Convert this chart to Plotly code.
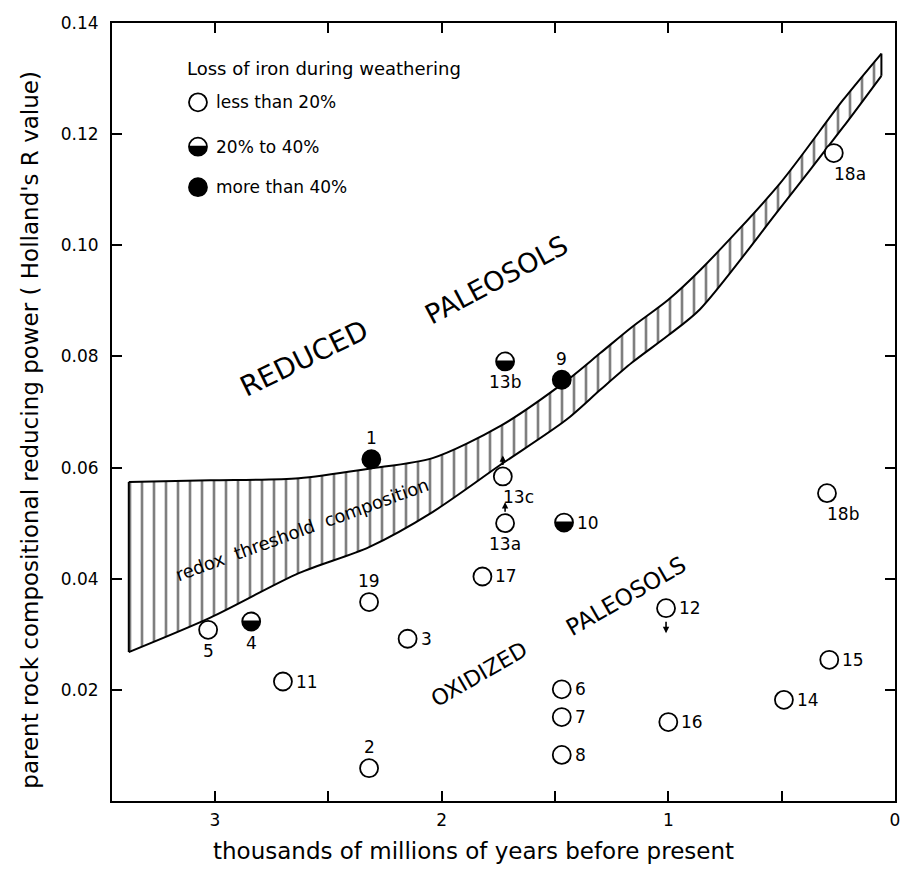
import math
import plotly.graph_objects as go

# ---------------- data ----------------
ids = ["1", "2", "3", "4", "5", "6", "7", "8", "9", "10", "11", "12",
       "13a", "13b", "13c", "14", "15", "16", "17", "18a", "18b", "19"]
age = [2.31, 2.32, 2.15, 2.84, 3.03, 1.47, 1.47, 1.47, 1.47, 1.46, 2.70, 1.01,
       1.72, 1.72, 1.73, 0.49, 0.29, 1.00, 1.82, 0.27, 0.30, 2.32]
r_value = [0.0615, 0.0059, 0.0292, 0.0323, 0.0308, 0.0201, 0.0151, 0.0083, 0.0758, 0.0501, 0.0215, 0.0347,
           0.0500, 0.0791, 0.0584, 0.0182, 0.0254, 0.0142, 0.0404, 0.1166, 0.0554, 0.0358]
iron_loss = ["high", "low", "low", "mid", "low", "low", "low", "low", "high", "mid", "low", "low",
             "low", "mid", "low", "low", "low", "low", "low", "low", "low", "low"]
limits = {"12": "down", "13a": "up", "13c": "up"}

band_age = [3.38, 3.02, 2.63, 2.32, 2.04, 1.74, 1.45, 1.30, 1.16, 1.00, 0.86, 0.51, 0.23, 0.06]
band_upper = [0.0574, 0.0577, 0.0581, 0.0598, 0.0617, 0.0675, 0.0756, 0.0806, 0.0853, 0.0902, 0.0955, 0.1110, 0.1261, 0.1345]
band_lower = [0.0268, 0.0330, 0.0410, 0.0457, 0.0520, 0.0605, 0.0686, 0.0740, 0.0789, 0.0838, 0.0885, 0.1065, 0.1212, 0.1305]

x_ticks = [3, 2.5, 2, 1.5, 1, 0.5, 0]
x_ticktext = ["3", "", "2", "", "1", "", "0"]
y_ticks = [0.02, 0.04, 0.06, 0.08, 0.10, 0.12, 0.14]
y_ticktext = ["0.02", "0.04", "0.06", "0.08", "0.10", "0.12", "0.14"]

legend_title = "Loss of iron during weathering"
legend_labels = {"low": "less than 20%", "mid": "20% to 40%", "high": "more than 40%"}

# label placement style (offset direction of each point label)
label_side = {"1": "top", "2": "top", "9": "top", "19": "top",
              "4": "bottom", "5": "bottom", "13a": "bottom", "13b": "bottom",
              "13c": "bottomright", "18a": "bottomright", "18b": "bottomright"}

FONT = "DejaVu Sans"
R = 9  # marker radius in px

fig = go.Figure()

# hatched band (smooth edges)
fig.add_trace(go.Scatter(
    x=band_age, y=band_lower, mode="lines", line=dict(color="black", width=2, shape="spline", smoothing=0.8),
    hoverinfo="skip", showlegend=False))
fig.add_trace(go.Scatter(
    x=band_age, y=band_upper, mode="lines", line=dict(color="black", width=2, shape="spline", smoothing=0.8),
    fill="tonexty", fillcolor="white",
    fillpattern=dict(shape="|", size=12, solidity=0.22, fgcolor="black", bgcolor="white"),
    hoverinfo="skip", showlegend=False))
fig.add_trace(go.Scatter(
    x=[band_age[0], band_age[0], None, band_age[-1], band_age[-1]],
    y=[band_lower[0], band_upper[0], None, band_lower[-1], band_upper[-1]],
    mode="lines", line=dict(color="black", width=2), hoverinfo="skip", showlegend=False))

# points: open circles for low & mid, filled for high
for cat in ["low", "mid", "high"]:
    xs = [a for a, c in zip(age, iron_loss) if c == cat]
    ys = [v for v, c in zip(r_value, iron_loss) if c == cat]
    fig.add_trace(go.Scatter(
        x=xs, y=ys, mode="markers",
        marker=dict(symbol="circle", size=2 * R,
                    color="black" if cat == "high" else "white",
                    line=dict(color="black", width=1.8)),
        name=legend_labels[cat], showlegend=False))


def half_path(r, n=30, lift=1.0):
    pts = []
    a0 = math.asin(lift / r)
    for i in range(n + 1):
        a = math.pi - a0 + (math.pi + 2 * a0) * i / n
        pts.append((r * math.cos(a), r * math.sin(a)))
    s = "M {:.2f},{:.2f} ".format(*pts[0])
    s += " ".join("L {:.2f},{:.2f}".format(px, py) for px, py in pts[1:])
    return s + " Z"


shapes = []
for a, v, c in zip(age, r_value, iron_loss):
    if c == "mid":
        shapes.append(dict(type="path", xref="x", yref="y", xsizemode="pixel", ysizemode="pixel",
                           xanchor=a, yanchor=v, path=half_path(R), fillcolor="black",
                           line=dict(width=0), layer="above"))

annotations = []
for name, a, v in zip(ids, age, r_value):
    side = label_side.get(name, "right")
    ann = dict(x=a, y=v, xref="x", yref="y", text=name, showarrow=False,
               font=dict(family=FONT, size=17, color="black"))
    if side == "right":
        ann.update(xanchor="left", yanchor="middle", xshift=R + 2)
    elif side == "top":
        ann.update(xanchor="center", yanchor="bottom", yshift=R)
    elif side == "bottom":
        ann.update(xanchor="center", yanchor="top", yshift=-R)
    else:
        ann.update(xanchor="left", yanchor="top", xshift=-2, yshift=-R)
    annotations.append(ann)

for name, a, v in zip(ids, age, r_value):
    if name in limits:
        if limits[name] == "down":
            annotations.append(dict(x=a, y=v, xref="x", yref="y", text="", showarrow=True,
                                    arrowhead=2, arrowsize=0.8, arrowwidth=1.6, arrowcolor="black",
                                    ax=0, ay=-13, yshift=-R - 16))
        else:
            annotations.append(dict(x=a, y=v, xref="x", yref="y", text="", showarrow=True,
                                    arrowhead=2, arrowsize=0.8, arrowwidth=1.6, arrowcolor="black",
                                    ax=0, ay=11, yshift=R + 12))

# region texts
annotations += [
    dict(x=2.607, y=0.0797, xref="x", yref="y", text="REDUCED", showarrow=False, textangle=-26,
         font=dict(family=FONT, size=28, color="black")),
    dict(x=1.756, y=0.0938, xref="x", yref="y", text="PALEOSOLS", showarrow=False, textangle=-28,
         font=dict(family=FONT, size=27, color="black")),
    dict(x=1.835, y=0.0227, xref="x", yref="y", text="OXIDIZED", showarrow=False, textangle=-30,
         font=dict(family=FONT, size=22, color="black")),
    dict(x=1.187, y=0.0369, xref="x", yref="y", text="PALEOSOLS", showarrow=False, textangle=-30,
         font=dict(family=FONT, size=23, color="black")),
    dict(x=2.616, y=0.0489, xref="x", yref="y", text="redox  threshold  composition", showarrow=False,
         textangle=-20, font=dict(family=FONT, size=18, color="black")),
]

# axis titles
annotations += [
    dict(x=0.462, y=-0.0645, xref="paper", yref="paper", text="thousands of millions of years before present",
         showarrow=False, xanchor="center", yanchor="middle", font=dict(family=FONT, size=23, color="black")),
    dict(x=-0.105, y=0.477, xref="paper", yref="paper",
         text="parent rock compositional reducing power ( Holland's R value)",
         showarrow=False, textangle=-90, xanchor="center", yanchor="middle",
         font=dict(family=FONT, size=23, color="black")),
]

# manual legend
lx = 0.1098
ly = {"low": 0.898, "mid": 0.841, "high": 0.789}
annotations.append(dict(x=0.093, y=0.942, xref="paper", yref="paper", text=legend_title, showarrow=False,
                        xanchor="left", yanchor="middle", font=dict(family=FONT, size=18, color="black")))
for cat in ["low", "mid", "high"]:
    shapes.append(dict(type="circle", xref="paper", yref="paper", xsizemode="pixel", ysizemode="pixel",
                       xanchor=lx, yanchor=ly[cat], x0=-R, x1=R, y0=-R, y1=R,
                       fillcolor="black" if cat == "high" else "white",
                       line=dict(color="black", width=1.8)))
    if cat == "mid":
        shapes.append(dict(type="path", xref="paper", yref="paper", xsizemode="pixel", ysizemode="pixel",
                           xanchor=lx, yanchor=ly[cat], path=half_path(R), fillcolor="black",
                           line=dict(width=0)))
    annotations.append(dict(x=lx, y=ly[cat], xref="paper", yref="paper", text=legend_labels[cat],
                            showarrow=False, xanchor="left", yanchor="middle", xshift=R + 7,
                            font=dict(family=FONT, size=17, color="black")))

axis_common = dict(showline=True, linecolor="black", linewidth=2, mirror="ticks",
                   ticks="inside", ticklen=10, tickwidth=1.6, tickcolor="black",
                   showgrid=False, zeroline=False, automargin=False,
                   tickfont=dict(family=FONT, size=17, color="black"))

# page body adds an 8px margin, so the figure is sized to fit the 909x872 window
fig.update_layout(
    width=901, height=864,
    margin=dict(l=104, r=14, t=15, b=71),
    paper_bgcolor="white", plot_bgcolor="white",
    showlegend=False,
    xaxis=dict(range=[3.454, 0], tickvals=x_ticks, ticktext=x_ticktext, ticklabelstandoff=3, **axis_common),
    yaxis=dict(range=[0, 0.14], tickvals=y_ticks, ticktext=y_ticktext, ticklabelstandoff=8, **axis_common),
    shapes=shapes, annotations=annotations,
)

fig.write_html("out.html")
